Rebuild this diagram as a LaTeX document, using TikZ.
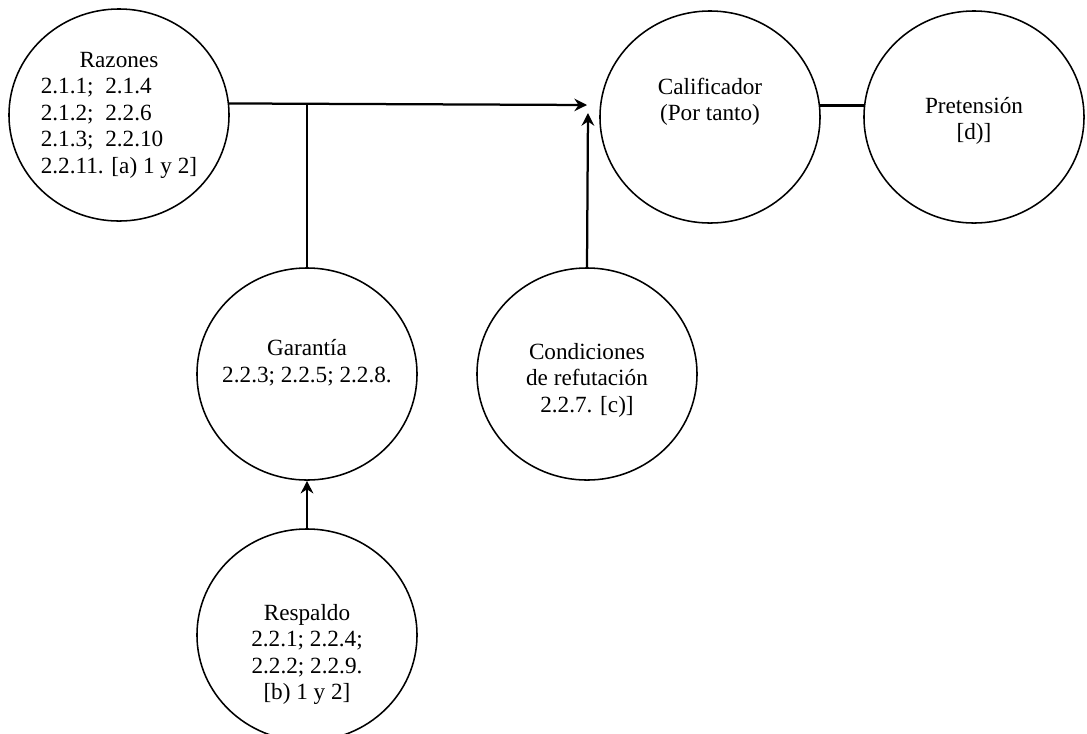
\documentclass[tikz,border=0pt]{standalone}
\usepackage{fontspec}
\setmainfont{Liberation Serif}
\usetikzlibrary{arrows.meta,positioning,shapes.geometric}
\tikzset{
  elem/.style={draw,ellipse,line width=1.1pt,minimum width=5.5cm,minimum height=5.3cm,
    inner sep=-40pt,align=center,font=\fontsize{16.5}{18.8}\selectfont},
  fl/.style={-{Stealth[length=9pt,width=9pt,inset=3pt]},line width=1.6pt},
  ln/.style={line width=1.6pt},
}
\begin{document}
\begin{tikzpicture}[x=0.025cm,y=-0.025cm]
  \useasboundingbox (0,0) rectangle (1087,733);
  \node[elem] (raz) at (119,115) {\begin{tabular}{@{}l@{}}\multicolumn{1}{@{}c@{}}{Razones}\\
    2.1.1;\ \ 2.1.4\\ 2.1.2;\ \ 2.2.6\\ 2.1.3;\ \ 2.2.10\\ 2.2.11. [a) 1 y 2]\end{tabular}};
  \node[elem] (cal) at (710,117) {Calificador\\(Por tanto)\\[6pt] \mbox{}};
  \node[elem] (pre) at (974,117) {\rule{0pt}{17pt}Pretensión\\{[d)]}};
  \node[elem] (gar) at (307,374) {Garantía\\2.2.3; 2.2.5; 2.2.8.\\ \mbox{}};
  \node[elem] (cond) at (587,374) {\rule{0pt}{20.5pt}Condiciones\\de refutación\\2.2.7. [c)]};
  \node[elem] (resp) at (307,635) {\mbox{}\\[20pt]Respaldo\\2.2.1; 2.2.4;\\2.2.2; 2.2.9.\\{[b) 1 y 2]}};
  \coordinate (tip) at (587,105);
  \coordinate (refin) at (588,113);
  % razones -> calificador, garantia hangs from the line
  \draw[fl] (raz.6) -- (tip);
  \draw[ln] (gar.north) -- (gar.north |- tip);
  \draw[fl] (cond.north) -- (refin);
  \draw[ln] (cal.6) -- (pre.174);
  \draw[fl] (resp.north) -- (gar.south);
\end{tikzpicture}
\end{document}
